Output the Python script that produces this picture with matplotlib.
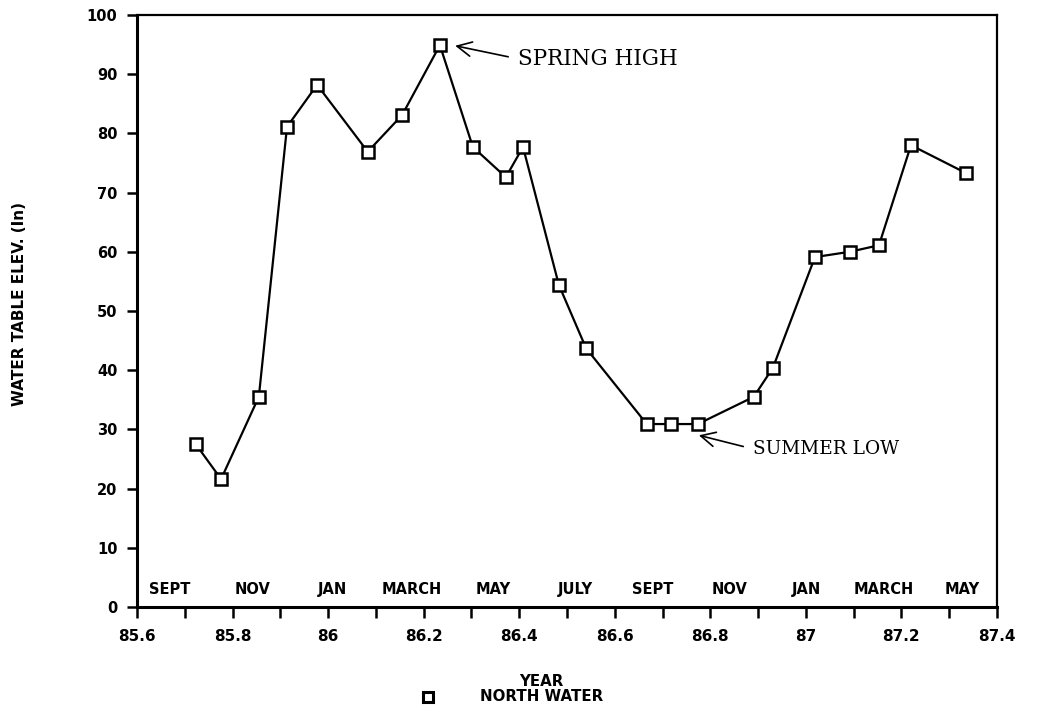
import matplotlib
matplotlib.use("Agg")
import matplotlib.pyplot as plt
import numpy as np
from matplotlib.lines import Line2D

# north water well readings
year = [85.723, 85.776, 85.855, 85.914, 85.977, 86.083, 86.155, 86.234,
        86.303, 86.372, 86.408, 86.483, 86.540, 86.667, 86.718, 86.774,
        86.891, 86.931, 87.019, 87.092, 87.153, 87.220, 87.335]
elev = [27.5, 21.6, 35.5, 81.1, 88.2, 76.9, 83.1, 94.9,
        77.7, 72.6, 77.7, 54.4, 43.7, 30.9, 30.9, 30.9,
        35.5, 40.4, 59.1, 60.0, 61.1, 78.0, 73.3]

months = ["SEPT", "NOV", "JAN", "MARCH", "MAY", "JULY",
          "SEPT", "NOV", "JAN", "MARCH", "MAY"]
month_x = [85.669, 85.841, 86.010, 86.176, 86.345, 86.517,
           86.680, 86.841, 87.002, 87.163, 87.327]

xticks = [85.6, 85.8, 86.0, 86.2, 86.4, 86.6, 86.8, 87.0, 87.2, 87.4]
xtick_labels = ["85.6", "85.8", "86", "86.2", "86.4", "86.6", "86.8", "87", "87.2", "87.4"]

fig = plt.figure(figsize=(10.37, 7.13), dpi=100)
ax = fig.add_axes([0.1321, 0.1487, 0.8293, 0.8303])

ax.plot(year, elev, color="black", lw=1.6, marker="s", ms=8.5,
        mfc="white", mec="black", mew=1.8, zorder=3)

ax.set_xlim(85.6, 87.4)
ax.set_ylim(0, 100)
ax.set_xticks(xticks, labels=xtick_labels)
ax.set_xticks(np.arange(85.7, 87.4, 0.2), minor=True)
ax.set_yticks(np.arange(0, 101, 10))

ax.spines["left"].set_linewidth(2.2)
ax.spines["bottom"].set_linewidth(2.2)
ax.spines["top"].set_linewidth(1.6)
ax.spines["right"].set_linewidth(1.6)

ax.tick_params(axis="both", which="both", direction="out", width=1.8)
ax.tick_params(axis="x", which="both", length=8, pad=8)
ax.tick_params(axis="y", length=7, pad=7)
for lbl in ax.get_xticklabels():
    lbl.set_fontweight("bold")
    lbl.set_fontsize(11)
for lbl in ax.get_yticklabels():
    lbl.set_fontweight("bold")
    lbl.set_fontsize(10.5)

for m, x in zip(months, month_x):
    ax.text(x, 3.0, m, ha="center", va="center", fontsize=10.5,
            fontweight="bold")

ax.annotate("SPRING HIGH", xy=(86.266, 94.8), xytext=(86.397, 92.6),
            va="center", ha="left", family="DejaVu Serif", fontsize=15.5,
            arrowprops=dict(arrowstyle="->", color="black", lw=1.2,
                            mutation_scale=26, shrinkA=5, shrinkB=0,
                            relpos=(0, 0.5)))
ax.annotate("SUMMER LOW", xy=(86.776, 29.0), xytext=(86.889, 26.7),
            va="center", ha="left", family="DejaVu Serif", fontsize=13.3,
            arrowprops=dict(arrowstyle="->", color="black", lw=1.2,
                            mutation_scale=26, shrinkA=5, shrinkB=0,
                            relpos=(0, 0.5)))

fig.text(0.0185, 0.5736, "WATER TABLE ELEV. (In)", rotation=90,
         ha="center", va="center", fontsize=11, fontweight="bold")

fig.text(0.5217, 0.0435, "YEAR", ha="center", va="center",
         fontsize=10.8, fontweight="bold")
fig.add_artist(Line2D([0.4127], [0.0225], transform=fig.transFigure,
                      ls="none", marker="s", ms=7, mfc="white",
                      mec="black", mew=2.2))
fig.text(0.4629, 0.0225, "NORTH WATER", ha="left", va="center",
         fontsize=10.8, fontweight="bold")

fig.savefig("out.png", dpi=100)
